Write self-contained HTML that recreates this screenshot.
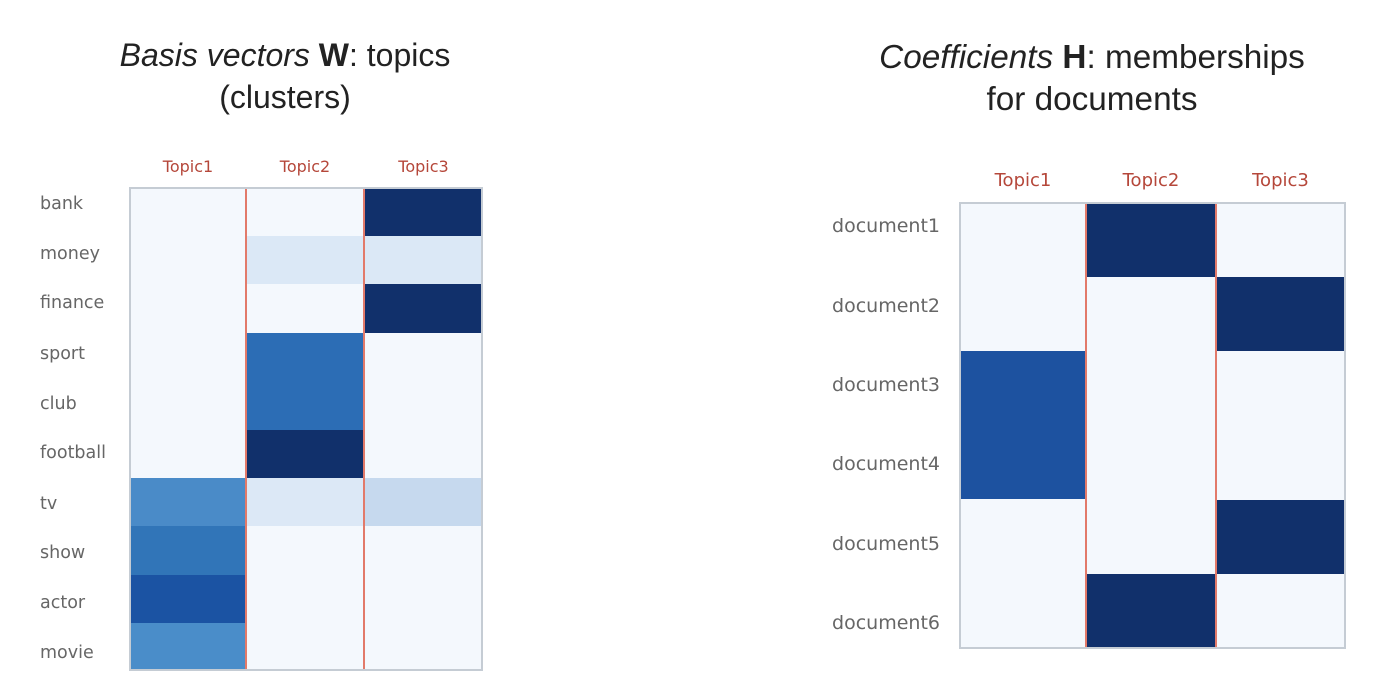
<html><head><style>
body{margin:0;width:1393px;height:675px;background:#fff;position:relative;font-family:"Liberation Sans",sans-serif;overflow:hidden}
.t{position:absolute;color:#222;text-align:center}
.l{position:absolute;font-family:"DejaVu Sans",sans-serif;font-size:17.5px;color:#666}
.h{position:absolute;font-family:"DejaVu Sans",sans-serif;font-size:16px;color:#b5473a;text-align:center}
.c{position:absolute}
</style></head><body>
<div class="t" style="left:35px;top:34px;width:500px;font-size:32px;line-height:42px"><i>Basis vectors</i> <b>W</b>: topics<br>(clusters)</div>
<div class="t" style="left:792px;top:37px;width:600px;font-size:33.3px;line-height:42px"><i>Coefficients</i> <b>H</b>: memberships<br>for documents</div>

<div class="h" style="left:130px;top:157px;width:116px">Topic1</div>
<div class="h" style="left:246px;top:157px;width:118px">Topic2</div>
<div class="h" style="left:364px;top:157px;width:119px">Topic3</div>
<div class="l" style="left:40px;top:194px">bank</div>
<div class="l" style="left:40px;top:244px">money</div>
<div class="l" style="left:40px;top:293px">finance</div>
<div class="l" style="left:40px;top:344px">sport</div>
<div class="l" style="left:40px;top:394px">club</div>
<div class="l" style="left:40px;top:443px">football</div>
<div class="l" style="left:40px;top:494px">tv</div>
<div class="l" style="left:40px;top:543px">show</div>
<div class="l" style="left:40px;top:593px">actor</div>
<div class="l" style="left:40px;top:643px">movie</div>

<div class="c" style="left:129px;top:187px;width:354px;height:484px;background:#f4f8fd;border:2px solid #c5ccd4;box-sizing:border-box"></div>
<div class="c" style="left:131px;top:478px;width:115px;height:48px;background:#4a8bc8"></div>
<div class="c" style="left:131px;top:526px;width:115px;height:49px;background:#3175b8"></div>
<div class="c" style="left:131px;top:575px;width:115px;height:48px;background:#1b53a3"></div>
<div class="c" style="left:131px;top:623px;width:115px;height:46px;background:#4a8dc9"></div>
<div class="c" style="left:246px;top:236px;width:118px;height:48px;background:#dbe8f6"></div>
<div class="c" style="left:246px;top:333px;width:118px;height:97px;background:#2c6db5"></div>
<div class="c" style="left:246px;top:430px;width:118px;height:48px;background:#11306b"></div>
<div class="c" style="left:246px;top:478px;width:118px;height:48px;background:#dce8f6"></div>
<div class="c" style="left:364px;top:189px;width:117px;height:47px;background:#11306b"></div>
<div class="c" style="left:364px;top:236px;width:117px;height:48px;background:#dbe8f6"></div>
<div class="c" style="left:364px;top:284px;width:117px;height:49px;background:#11306b"></div>
<div class="c" style="left:364px;top:478px;width:117px;height:48px;background:#c6d9ee"></div>
<div class="c" style="left:245px;top:189px;width:2px;height:480px;background:#e27a6a"></div>
<div class="c" style="left:363px;top:189px;width:2px;height:480px;background:#e27a6a"></div>

<div class="h" style="left:960px;top:170px;width:126px;font-size:18px">Topic1</div>
<div class="h" style="left:1086px;top:170px;width:130px;font-size:18px">Topic2</div>
<div class="h" style="left:1216px;top:170px;width:129px;font-size:18px">Topic3</div>
<div class="l" style="left:740px;top:215px;width:200px;text-align:right;font-size:19px">document1</div>
<div class="l" style="left:740px;top:295px;width:200px;text-align:right;font-size:19px">document2</div>
<div class="l" style="left:740px;top:374px;width:200px;text-align:right;font-size:19px">document3</div>
<div class="l" style="left:740px;top:453px;width:200px;text-align:right;font-size:19px">document4</div>
<div class="l" style="left:740px;top:533px;width:200px;text-align:right;font-size:19px">document5</div>
<div class="l" style="left:740px;top:612px;width:200px;text-align:right;font-size:19px">document6</div>

<div class="c" style="left:959px;top:202px;width:387px;height:447px;background:#f4f8fd;border:2px solid #c5ccd4;box-sizing:border-box"></div>
<div class="c" style="left:961px;top:351px;width:125px;height:148px;background:#1d52a0"></div>
<div class="c" style="left:1086px;top:204px;width:130px;height:73px;background:#11306b"></div>
<div class="c" style="left:1086px;top:574px;width:130px;height:73px;background:#11306b"></div>
<div class="c" style="left:1216px;top:277px;width:128px;height:74px;background:#11306b"></div>
<div class="c" style="left:1216px;top:500px;width:128px;height:74px;background:#11306b"></div>
<div class="c" style="left:1085px;top:204px;width:2px;height:443px;background:#e27a6a"></div>
<div class="c" style="left:1215px;top:204px;width:2px;height:443px;background:#e27a6a"></div>
</body></html>
